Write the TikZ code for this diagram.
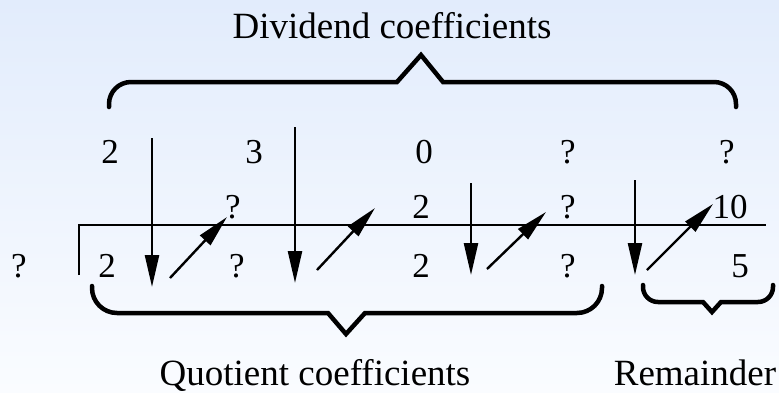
\documentclass[tikz,border=0pt]{standalone}
\usepackage{fontspec}
\setmainfont{Liberation Serif}
\usetikzlibrary{arrows.meta}
\definecolor{bgtop}{RGB}{226,236,252}
\definecolor{bgbot}{RGB}{250,252,255}
\begin{document}
\begin{tikzpicture}[x=1pt,y=-1pt,
  num/.style={font=\fontsize{35}{42}\selectfont, inner sep=0pt, anchor=base},
  lbl/.style={font=\fontsize{37}{44}\selectfont, inner sep=0pt, anchor=base},
  arr/.style={line width=2.4pt, -{Triangle[length=32pt,width=14pt]}},
  rulez/.style={line width=2.4pt},
  bracez/.style={line width=4.5pt, line cap=round, line join=miter}]
\shade[top color=bgtop, bottom color=bgbot] (0,0) rectangle (779,392);
\useasboundingbox (0,0) rectangle (779,392);

% labels
\node[lbl] (dividend) at (392,38) {Dividend coefficients};
\node[lbl] (quotient) at (315,385) {Quotient coefficients};
\node[lbl] (remainder) at (695,385) {Remainder};

% top row
\node[num] (t1) at (110,163) {2};
\node[num] (t2) at (254,163) {3};
\node[num] (t3) at (424,163) {0};
\node[num] (t4) at (568,163) {?};
\node[num] (t5) at (727,163) {?};
% middle row
\node[num] (m2) at (233,218) {?};
\node[num] (m3) at (421,218) {2};
\node[num] (m4) at (568,218) {?};
\node[num] (m5) at (730,218) {10};
% bottom row
\node[num] (divisor) at (19,277) {?};
\node[num] (b1) at (107,277) {2};
\node[num] (b2) at (237,277) {?};
\node[num] (b3) at (421,277) {2};
\node[num] (b4) at (568,277) {?};
\node[num] (b5) at (740,277) {5};

% division rule
\coordinate (rl) at (79,225);
\coordinate (rr) at (766,225);
\coordinate (rb) at (79,275);
\draw[rulez] (rb) -- (rl) -- (rr);

% down arrows
\coordinate (d1s) at (152,138); \coordinate (d1e) at (152,287);
\coordinate (d2s) at (295,127); \coordinate (d2e) at (295,283);
\coordinate (d3s) at (471,183); \coordinate (d3e) at (471,275);
\coordinate (d4s) at (635,180); \coordinate (d4e) at (635,275);
\draw[arr] (d1s) -- (d1e);
\draw[arr] (d2s) -- (d2e);
\draw[arr] (d3s) -- (d3e);
\draw[arr] (d4s) -- (d4e);

% diagonal arrows
\coordinate (g1s) at (170,278); \coordinate (g1e) at (227,217);
\coordinate (g2s) at (317,270); \coordinate (g2e) at (375,208);
\coordinate (g3s) at (487,269); \coordinate (g3e) at (546,212);
\coordinate (g4s) at (647,270); \coordinate (g4e) at (713,204);
\draw[arr] (g1s) -- (g1e);
\draw[arr] (g2s) -- (g2e);
\draw[arr] (g3s) -- (g3e);
\draw[arr] (g4s) -- (g4e);

% braces
\draw[bracez] (109,107) -- (109,104) arc[start angle=180, end angle=270, radius=22]
  -- (397,82) -- (421,55) -- (443,82) -- (714,82)
  arc[start angle=270, end angle=360, radius=22] -- (736,107);
\draw[bracez] (92,286) -- (92,288) arc[start angle=180, end angle=90, radius=25]
  -- (328,313) -- (346,334) -- (365,313) -- (577,313)
  arc[start angle=90, end angle=0, radius=25] -- (602,286);
\draw[bracez] (643,285) -- (643,287) arc[start angle=180, end angle=90, radius=15]
  -- (703,302) -- (712,312) -- (721,302) -- (758,302)
  arc[start angle=90, end angle=0, radius=15] -- (773,285);
\end{tikzpicture}
\end{document}
